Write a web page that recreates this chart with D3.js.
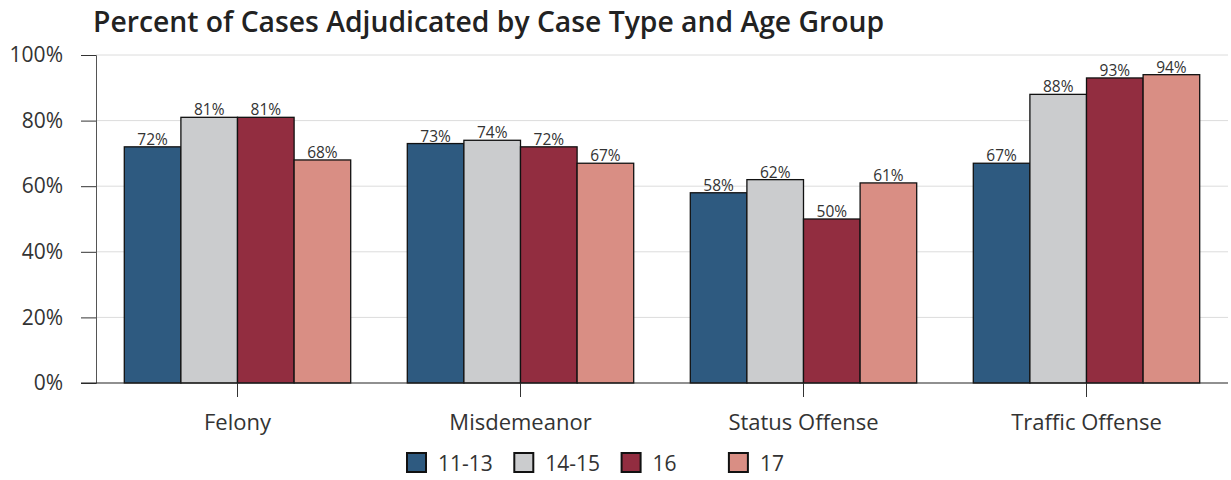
<!DOCTYPE html>
<html>
<head>
<meta charset="utf-8">
<script src="https://cdn.jsdelivr.net/npm/d3@7"></script>
<style>
  body { margin: 0; background: #fff; }
  svg text { font-family: "Open Sans", "Noto Sans", sans-serif; }
</style>
</head>
<body>
<div id="chart"></div>
<script>
// data
var caseTypes = ["Felony", "Misdemeanor", "Status Offense", "Traffic Offense"];
var ageGroups = ["11-13", "14-15", "16", "17"];
var pctFelony = [72, 81, 81, 68];
var pctMisdemeanor = [73, 74, 72, 67];
var pctStatus = [58, 62, 50, 61];
var pctTraffic = [67, 88, 93, 94];
var yTicks = [0, 20, 40, 60, 80, 100];
var colors = ["#2e5a80", "#cbccce", "#922d40", "#d98e84"];

var seriesByType = [pctFelony, pctMisdemeanor, pctStatus, pctTraffic];
var rows = caseTypes.map(function(t, i) {
  return { type: t, values: ageGroups.map(function(g, j) { return { age: g, value: seriesByType[i][j] }; }) };
});

var width = 1231, height = 480;
var margin = { top: 55, right: 3, bottom: 97, left: 96 };

var svg = d3.select("#chart").append("svg")
  .attr("width", width)
  .attr("height", height);

// title
svg.append("text")
  .attr("x", 93)
  .attr("y", 32)
  .attr("font-size", 28.3)
  .attr("font-weight", 600)
  .attr("fill", "#222")
  .text("Percent of Cases Adjudicated by Case Type and Age Group");

var x0 = d3.scaleBand()
  .domain(caseTypes)
  .range([margin.left, width - margin.right])
  .padding(0);

var x1 = d3.scaleBand()
  .domain(ageGroups)
  .range([x0.bandwidth() * 0.1, x0.bandwidth() * 0.9])
  .padding(0);

var y = d3.scaleLinear()
  .domain([0, 100])
  .range([height - margin.bottom, margin.top]);

// gridlines
svg.append("g")
  .selectAll("line")
  .data(yTicks.slice(1))
  .enter()
  .append("line")
  .attr("x1", margin.left)
  .attr("x2", width - margin.right)
  .attr("y1", function(d) { return y(d); })
  .attr("y2", function(d) { return y(d); })
  .attr("stroke", "#dcdcdc")
  .attr("stroke-width", 1);

// y axis
var yAxis = svg.append("g")
  .attr("transform", "translate(" + margin.left + ",0)")
  .call(d3.axisLeft(y).tickValues(yTicks).tickSize(15).tickPadding(18)
    .tickFormat(function(d) { return d + "%"; }));
yAxis.select(".domain").attr("stroke", "#555");
yAxis.selectAll(".tick line").attr("stroke", "#333");
yAxis.selectAll("text").attr("font-size", 21).attr("fill", "#333");

// bars
var groups = svg.append("g")
  .selectAll("g")
  .data(rows)
  .enter()
  .append("g")
  .attr("transform", function(d) { return "translate(" + x0(d.type) + ",0)"; });

groups.selectAll("rect")
  .data(function(d) { return d.values; })
  .enter()
  .append("rect")
  .attr("x", function(d) { return x1(d.age); })
  .attr("y", function(d) { return y(d.value); })
  .attr("width", x1.bandwidth())
  .attr("height", function(d) { return y(0) - y(d.value); })
  .attr("fill", function(d, i) { return colors[i]; })
  .attr("stroke", "#111")
  .attr("stroke-width", 1.3);

groups.selectAll(".lbl")
  .data(function(d) { return d.values; })
  .enter()
  .append("text")
  .attr("class", "lbl")
  .attr("x", function(d) { return x1(d.age) + x1.bandwidth() / 2; })
  .attr("y", function(d) { return y(d.value) - 2; })
  .attr("text-anchor", "middle")
  .attr("font-size", 15.5)
  .attr("fill", "#333")
  .text(function(d) { return d.value + "%"; });

// x axis
var xAxis = svg.append("g")
  .attr("transform", "translate(0," + y(0) + ")")
  .call(d3.axisBottom(x0).tickSize(14).tickPadding(17).tickSizeOuter(0));
xAxis.select(".domain").remove();
xAxis.selectAll(".tick line").attr("stroke", "#333");
xAxis.selectAll("text").attr("font-size", 22).attr("fill", "#333");
svg.append("line")
  .attr("x1", margin.left - 15)
  .attr("x2", width - margin.right)
  .attr("y1", y(0))
  .attr("y2", y(0))
  .attr("stroke", "#222")
  .attr("stroke-width", 1.2);

// legend
var legend = svg.append("g")
  .attr("transform", "translate(406,452)");
var item = legend.selectAll("g")
  .data(ageGroups)
  .enter()
  .append("g")
  .attr("transform", function(d, i) { return "translate(" + (i * 107.3) + ",0)"; });
item.append("rect")
  .attr("x", 1)
  .attr("y", 1)
  .attr("width", 19)
  .attr("height", 19)
  .attr("fill", function(d, i) { return colors[i]; })
  .attr("stroke", "#111")
  .attr("stroke-width", 2);
item.append("text")
  .attr("x", 32)
  .attr("y", 19)
  .attr("font-size", 21)
  .attr("fill", "#333")
  .text(function(d) { return d; });
</script>
</body>
</html>
